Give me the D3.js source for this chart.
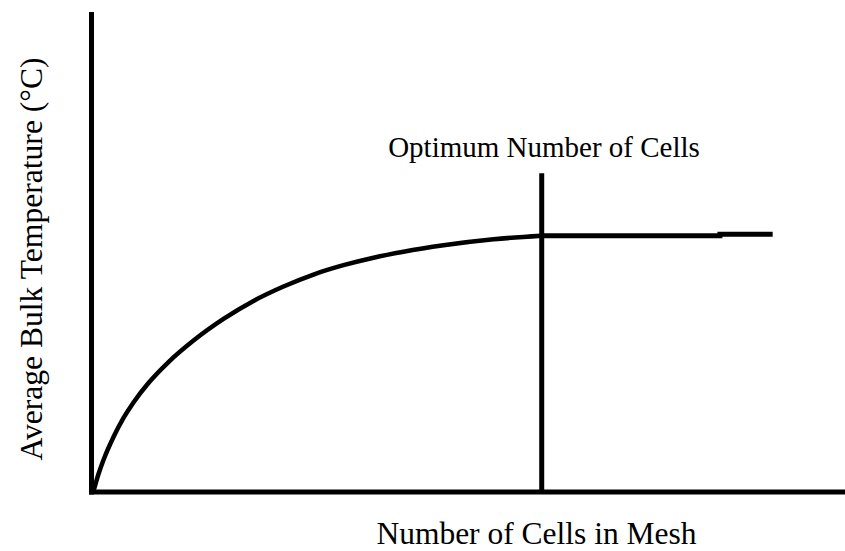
<!DOCTYPE html>
<html>
<head>
<meta charset="utf-8">
<script src="https://cdn.jsdelivr.net/npm/d3@7"></script>
<style>
  html, body { margin: 0; padding: 0; background: #fff; }
  svg { display: block; }
  text { font-family: "Liberation Serif", "Times New Roman", serif; fill: #000; }
</style>
</head>
<body>
<svg id="chart" width="845" height="551"></svg>
<script>
// Mesh-independence study: bulk temperature levels off as the mesh is refined.
// Units are arbitrary (0–100 on both axes); the chart is qualitative.
const riseCells = [0.27, 0.93, 1.59, 2.92, 4.25, 5.57, 7.56, 10.22, 13.54, 17.52, 21.50, 25.48, 29.46, 33.44, 37.43, 41.41, 46.72, 53.35, 59.72];
const riseTemp  = [0.21, 3.75, 6.67, 11.46, 15.42, 18.65, 22.71, 27.08, 31.56, 36.06, 39.81, 42.81, 45.31, 47.25, 48.81, 50.06, 51.40, 52.65, 53.40];
const plateauCells = [59.72, 83.4, 90.4];
const plateauTemp  = [53.40, 53.7, 53.7];
const optimumCells = 59.75;
const optimumMarkerTop = 66.4;

const xLabel = "Number of Cells in Mesh";
const yLabel = "Average Bulk Temperature (°C)";
const optimumLabel = "Optimum Number of Cells";

const svg = d3.select("#chart");
const x = d3.scaleLinear().domain([0, 100]).range([91.5, 845]);
const y = d3.scaleLinear().domain([0, 100]).range([492, 12]);

const stroke = 5;

// Axes: plain thick lines, no ticks
svg.append("line")
  .attr("x1", x(0)).attr("x2", x(0))
  .attr("y1", y(0) + stroke / 2).attr("y2", y(100))
  .attr("stroke", "#000").attr("stroke-width", stroke);
svg.append("line")
  .attr("x1", x(0) - stroke / 2).attr("x2", x(100))
  .attr("y1", y(0)).attr("y2", y(0))
  .attr("stroke", "#000").attr("stroke-width", stroke);

// Rising part of the curve
const rise = riseCells.map((c, i) => [c, riseTemp[i]]);
svg.append("path")
  .datum(rise)
  .attr("fill", "none")
  .attr("stroke", "#000")
  .attr("stroke-width", 4.5)
  .attr("d", d3.line().x(d => x(d[0])).y(d => y(d[1])).curve(d3.curveMonotoneX));

// Plateau after the optimum
const plateau = plateauCells.map((c, i) => [c, plateauTemp[i]]);
svg.append("path")
  .datum(plateau)
  .attr("fill", "none")
  .attr("stroke", "#000")
  .attr("stroke-width", 5)
  .attr("d", d3.line().x(d => x(d[0])).y(d => y(d[1])).curve(d3.curveStepAfter));

// Optimum marker
svg.append("line")
  .attr("x1", x(optimumCells)).attr("x2", x(optimumCells))
  .attr("y1", y(0)).attr("y2", y(optimumMarkerTop))
  .attr("stroke", "#000").attr("stroke-width", stroke);

svg.append("text")
  .attr("x", 544).attr("y", 157)
  .attr("text-anchor", "middle")
  .style("font-size", "29px")
  .text(optimumLabel);

svg.append("text")
  .attr("x", 536.5).attr("y", 544)
  .attr("text-anchor", "middle")
  .style("font-size", "31.5px")
  .text(xLabel);

svg.append("text")
  .attr("transform", "translate(42,259) rotate(-90)")
  .attr("text-anchor", "middle")
  .style("font-size", "31.6px")
  .text(yLabel);
</script>
</body>
</html>
